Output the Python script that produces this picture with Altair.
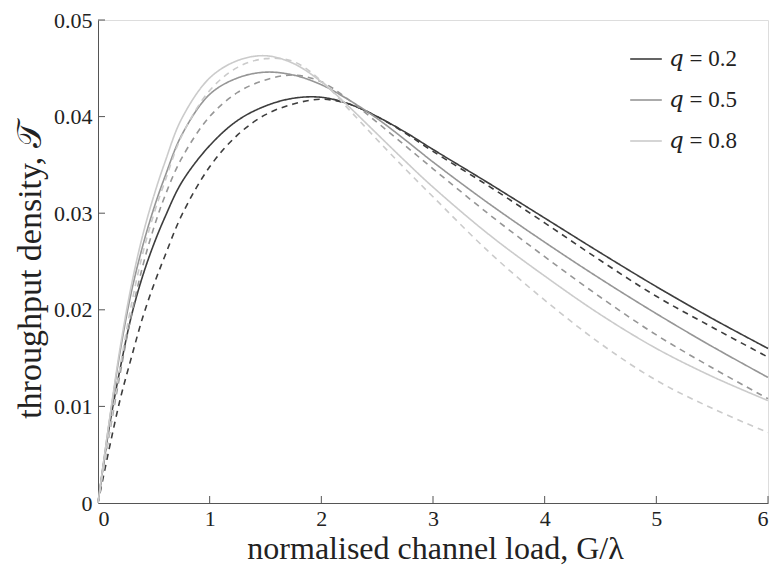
import altair as alt
import pandas as pd

# normalised channel load G/lambda
x_vals = [0, 0.1, 0.2, 0.3, 0.4, 0.5, 0.6, 0.75, 1.0, 1.25, 1.5, 1.75, 2.0,
          2.25, 2.5, 2.75, 3.0, 3.5, 4.0, 4.5, 5.0, 5.5, 6.0]

q02_solid = [0, 0.0078, 0.0140, 0.0194, 0.0235, 0.0268, 0.0296, 0.0332, 0.0370,
             0.0396, 0.0411, 0.0419, 0.0420, 0.0413, 0.0400, 0.0384, 0.0366,
             0.0331, 0.0295, 0.0259, 0.0224, 0.0191, 0.0160]
q02_dashed = [0, 0.0056, 0.0108, 0.0151, 0.0192, 0.0226, 0.0256, 0.0298, 0.0348,
              0.0381, 0.0402, 0.0413, 0.0418, 0.0413, 0.0400, 0.0383, 0.0364,
              0.0328, 0.0290, 0.0251, 0.0214, 0.0182, 0.0151]
q05_solid = [0, 0.0083, 0.0158, 0.0219, 0.0266, 0.0305, 0.0338, 0.0381, 0.0423,
             0.0440, 0.0446, 0.0443, 0.0433, 0.0417, 0.0398, 0.0376, 0.0353,
             0.0310, 0.0270, 0.0232, 0.0196, 0.0162, 0.0130]
q05_dashed = [0, 0.0070, 0.0135, 0.0195, 0.0245, 0.0285, 0.0318, 0.0357, 0.0400,
              0.0425, 0.0438, 0.0443, 0.0436, 0.0417, 0.0394, 0.0370, 0.0346,
              0.0299, 0.0255, 0.0213, 0.0174, 0.0140, 0.0108]
q08_solid = [0, 0.0084, 0.0162, 0.0226, 0.0277, 0.0318, 0.0353, 0.0398, 0.0440,
             0.0458, 0.0463, 0.0455, 0.0436, 0.0410, 0.0382, 0.0354, 0.0327,
             0.0278, 0.0235, 0.0195, 0.0160, 0.0131, 0.0106]
q08_dashed = [0, 0.0072, 0.0142, 0.0206, 0.0258, 0.0299, 0.0333, 0.0380, 0.0427,
              0.0451, 0.0460, 0.0457, 0.0437, 0.0407, 0.0376, 0.0346, 0.0317,
              0.0260, 0.0210, 0.0165, 0.0127, 0.0098, 0.0073]

q_labels = ["𝑞 = 0.2", "𝑞 = 0.5", "𝑞 = 0.8"]
q_colors = ["#3d3d3d", "#969696", "#cbcbcb"]
styles = ["solid", "dashed"]

x_ticks = [1, 2, 3, 4, 5, 6]
y_ticks = [0.01, 0.02, 0.03, 0.04, 0.05]

series = [
    (q_labels[0], "solid", q02_solid), (q_labels[0], "dashed", q02_dashed),
    (q_labels[1], "solid", q05_solid), (q_labels[1], "dashed", q05_dashed),
    (q_labels[2], "solid", q08_solid), (q_labels[2], "dashed", q08_dashed),
]
rows = []
for lab, sty, ys in series:
    for xv, yv in zip(x_vals, ys):
        rows.append({"x": xv, "y": yv, "q": lab, "style": sty, "series": lab + sty})
df = pd.DataFrame(rows)

FONT = "Liberation Serif, DejaVu Serif, serif"
W, H = 670, 483

xscale = alt.Scale(domain=[0, 6], nice=False, zero=True)
yscale = alt.Scale(domain=[0, 0.05], nice=False)

x_axis = alt.Axis(
    values=[0, 1, 2, 3, 4, 5, 6], ticks=False, grid=False, labelFont=FONT,
    labelFontSize=22, labelColor="#222", labelPadding=5, domainColor="#555",
    title="normalised channel load, G/λ", titleFont=FONT, titleFontSize=32,
    titleFontWeight="normal", titleColor="#222", titleX=337, titleY=55,
    titleBaseline="alphabetic")
y_axis = alt.Axis(
    values=[0, 0.01, 0.02, 0.03, 0.04, 0.05], ticks=False, grid=False,
    labelExpr="datum.value == 0 ? '0' : format(datum.value, '.2f')",
    labelFont=FONT, labelFontSize=22, labelColor="#222", labelPadding=6,
    domainColor="#555",
    title="throughput density, 𝒯", titleFont=FONT, titleFontSize=34,
    titleFontWeight="normal", titleColor="#222", titleX=-58, titleY=250,
    titleBaseline="alphabetic", titleAngle=-90)

lines = alt.Chart(df).mark_line(strokeWidth=1.6, interpolate="catmull-rom").encode(
    x=alt.X("x:Q", scale=xscale, axis=x_axis),
    y=alt.Y("y:Q", scale=yscale, axis=y_axis),
    color=alt.Color("q:N", scale=alt.Scale(domain=q_labels, range=q_colors),
                    legend=alt.Legend(title=None, orient="none", legendX=531,
                                      legendY=22, symbolType="stroke",
                                      symbolStrokeWidth=1.6, symbolSize=1000,
                                      labelFont=FONT, labelFontSize=23,
                                      labelColor="#222", rowPadding=12,
                                      labelOffset=6)),
    strokeDash=alt.StrokeDash("style:N", scale=alt.Scale(domain=styles,
                              range=[[1, 0], [6, 5]]), legend=None),
    detail="series:N",
)

xt = alt.Chart(pd.DataFrame({"x": x_ticks})).mark_rule(color="#555", strokeWidth=1).encode(
    x=alt.X("x:Q", scale=xscale, axis=x_axis),
    y=alt.value(H), y2=alt.value(H - 7),
)
yt = alt.Chart(pd.DataFrame({"y": y_ticks})).mark_rule(color="#555", strokeWidth=1).encode(
    y=alt.Y("y:Q", scale=yscale, axis=y_axis),
    x=alt.value(0), x2=alt.value(7),
)

chart = alt.layer(lines, xt, yt).properties(
    width=W, height=H,
    autosize=alt.AutoSizeParams(type="none"),
    padding={"left": 98, "top": 20, "right": 8, "bottom": 68},
).configure_view(stroke=None).configure(background="white")

chart.save("out.html", embed_options={"renderer": "svg", "actions": False})
